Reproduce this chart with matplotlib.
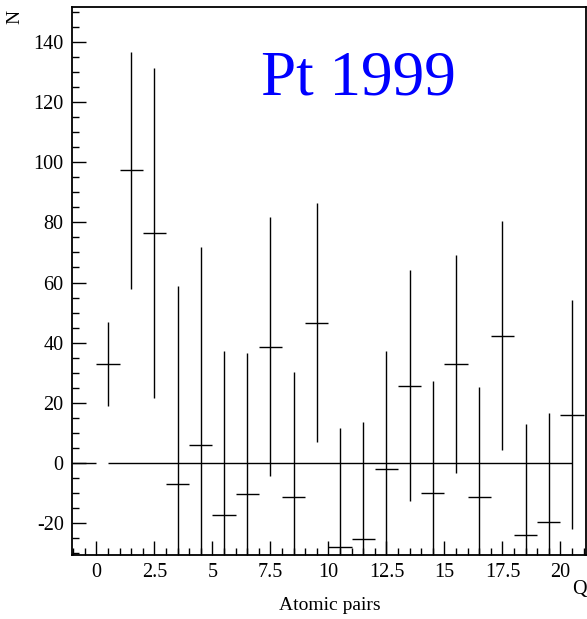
import numpy as np
import matplotlib.pyplot as plt
from matplotlib.ticker import MultipleLocator

plt.rcParams['font.family'] = ['Liberation Serif', 'DejaVu Serif']

# bin centres (Q), counts and errors
q = np.arange(0.5, 21.0, 1.0)
n = [33.0, 97.2, 76.4, -6.8, 6.1, -17.2, -10.3, 38.6, -11.3, 46.7, -27.7,
     -25.2, -2.0, 25.7, -10.0, 33.0, -11.3, 42.3, -23.9, -19.6, 16.1]
err = [14.0, 39.5, 54.7, 65.7, 65.8, 54.3, 47.0, 43.0, 41.6, 39.6, 39.5,
       38.9, 39.1, 38.3, 37.3, 36.2, 36.5, 38.0, 36.8, 36.2, 38.0]
bin_half = 0.5

# zero reference line pieces
zero_segs = [(-1.05, 0.0), (0.5, 20.5)]

fig = plt.figure(figsize=(5.87, 6.19), dpi=100)
ax = fig.add_axes([0.1227, 0.1034, 0.8756, 0.8853])

for x0, x1 in zero_segs:
    ax.hlines(0, x0, x1, color='black', lw=1.0)

ax.errorbar(q, n, xerr=bin_half, yerr=err, fmt='none', ecolor='black',
            elinewidth=1.0, capsize=0)

ax.set_xlim(-1.05, 21.1)
ax.set_ylim(-30.5, 151.5)

ax.xaxis.set_major_locator(MultipleLocator(2.5))
ax.xaxis.set_minor_locator(MultipleLocator(0.5))
ax.yaxis.set_major_locator(MultipleLocator(20))
ax.yaxis.set_minor_locator(MultipleLocator(5))
ax.xaxis.set_major_formatter(plt.FuncFormatter(lambda v, p: f'{v:g}'))
ax.yaxis.set_major_formatter(plt.FuncFormatter(lambda v, p: f'{v:g}'))

ax.tick_params(which='both', direction='in', top=False, right=False,
               labelsize=14.5, width=1.0)
ax.tick_params(which='major', length=10, pad=6)
ax.tick_params(which='minor', length=5)
for sp in ax.spines.values():
    sp.set_linewidth(1.3)

ax.text(0.368, 0.84, 'Pt 1999', transform=ax.transAxes, color='#0000ff',
        fontsize=45.5, va='baseline', ha='left')

fig.text(0.025, 0.972, 'N', rotation=90, fontsize=14, ha='center', va='center')
fig.text(0.987, 0.048, 'Q', fontsize=14.5, ha='center', va='center')
fig.text(0.562, 0.022, 'Atomic pairs', fontsize=14, ha='center', va='center')

fig.savefig('out.png', dpi=100)
